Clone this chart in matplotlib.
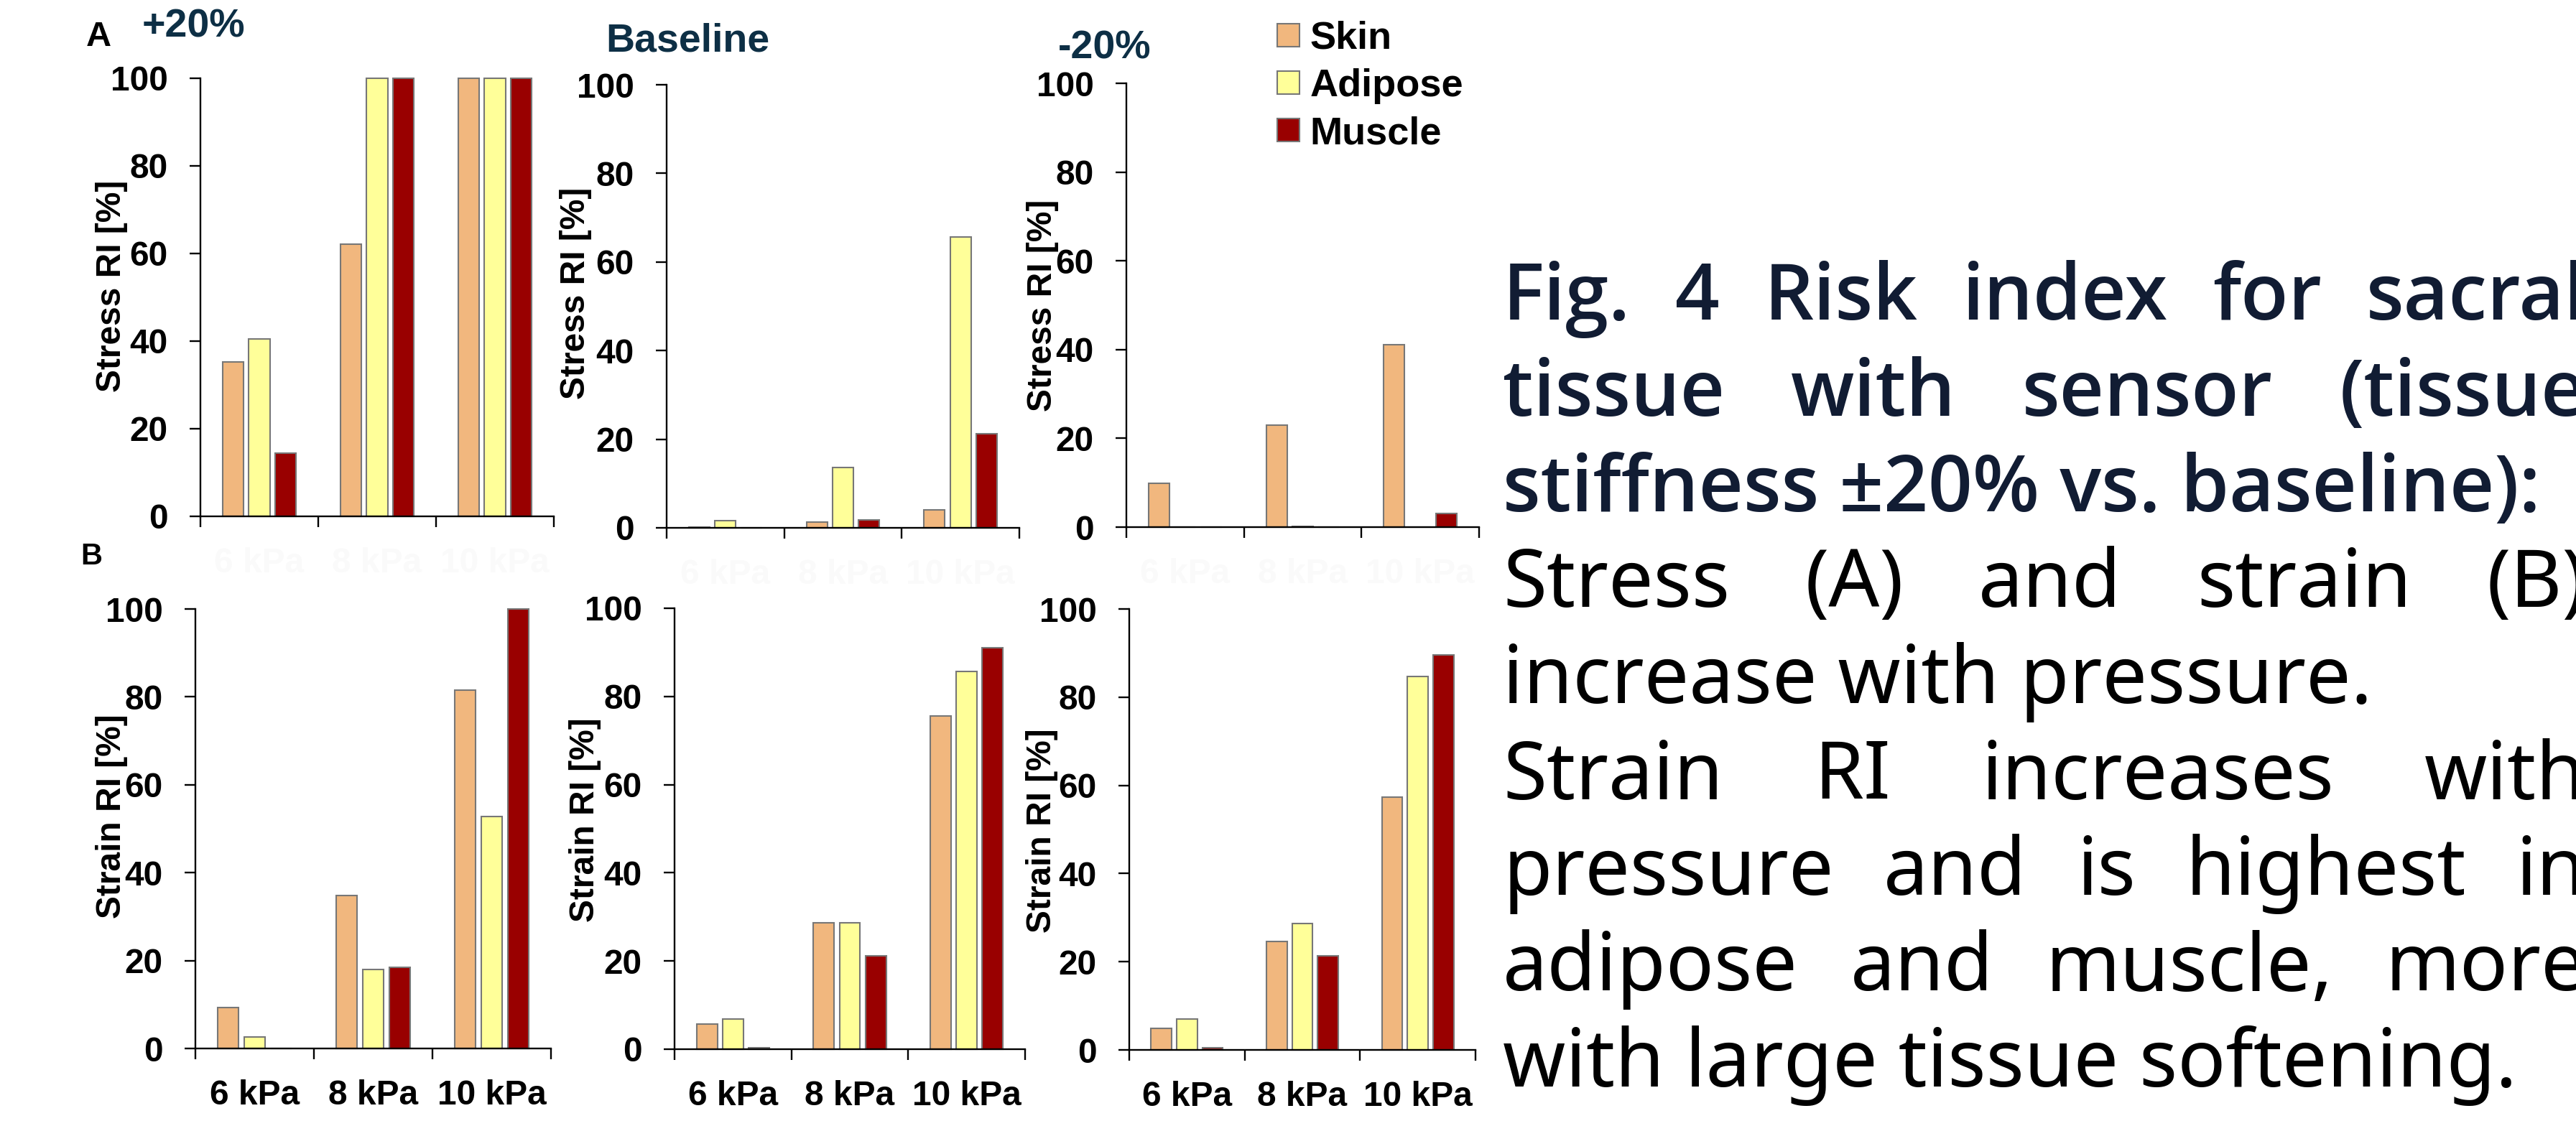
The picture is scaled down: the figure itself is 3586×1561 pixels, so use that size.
import matplotlib
matplotlib.use('Agg')
import matplotlib.pyplot as plt
from matplotlib import font_manager as fm
import os
import numpy as np

# values (risk index, %)
pressures = ['6 kPa', '8 kPa', '10 kPa']
tissues = ['Skin', 'Adipose', 'Muscle']
tissue_colors = ['#F1B77E', '#FFFF99', '#990000']
conditions = ['+20%', 'Baseline', '-20%']

# A: stress RI
stress_p20_skin = [35.2, 62.1, 100]
stress_p20_adipose = [40.5, 100, 100]
stress_p20_muscle = [14.4, 100, 100]

stress_base_skin = [0.15, 1.3, 4.1]
stress_base_adipose = [1.7, 13.6, 65.6]
stress_base_muscle = [0, 1.8, 21.3]

stress_m20_skin = [9.9, 23.0, 41.1]
stress_m20_adipose = [0, 0.1, 0]
stress_m20_muscle = [0, 0, 3.0]

# B: strain RI
strain_p20_skin = [9.3, 34.8, 81.5]
strain_p20_adipose = [2.6, 18.0, 52.7]
strain_p20_muscle = [0, 18.5, 100]

strain_base_skin = [5.7, 28.7, 75.6]
strain_base_adipose = [6.8, 28.6, 85.7]
strain_base_muscle = [0.4, 21.1, 91.0]

strain_m20_skin = [4.9, 24.6, 57.4]
strain_m20_adipose = [7.0, 28.7, 84.7]
strain_m20_muscle = [0.5, 21.4, 89.6]

caption_lines = [
    'Fig. 4 Risk index for sacral',
    'tissue with sensor (tissue',
    'stiffness ±20% vs. baseline):',
    'Stress (A) and strain (B)',
    'increase with pressure.',
    'Strain RI increases with',
    'pressure and is highest in',
    'adipose and muscle, more',
    'with large tissue softening.',
]
caption_bold = [True, True, True, False, False, False, False, False, False]
caption_justify = [True, True, False, True, False, True, True, True, False]

W, H = 3587, 1561
plt.rcParams['font.family'] = ['Liberation Sans', 'DejaVu Sans']
plt.rcParams['font.weight'] = 'bold'
plt.rcParams['axes.labelweight'] = 'bold'


# pick a caption family that really has a heavy face installed
def heavy_family():
    for fam in ['Noto Sans', 'Open Sans', 'Roboto', 'Lato']:
        try:
            path = fm.findfont(fm.FontProperties(family=fam, weight='semibold'), fallback_to_default=False)
        except Exception:
            continue
        name = os.path.basename(path)
        if any(k in name for k in ['Bold', 'Semi', 'Medium']):
            return fam
    return 'Liberation Sans'


cap_heavy = heavy_family()

fig = plt.figure(figsize=(W / 100, H / 100), dpi=100)
fig.patch.set_facecolor('white')


def add_axes_px(x0, x1, ytop, ybot):
    return fig.add_axes([x0 / W, 1 - ybot / H, (x1 - x0) / W, (ybot - ytop) / H])


def draw_panel(ax, skin, adipose, muscle, ylabel, label_xy, show_xlabels):
    x = np.arange(len(pressures))
    for k, (vals, col, name) in enumerate(zip([skin, adipose, muscle], tissue_colors, tissues)):
        ax.bar(x + (k - 1) * 0.222, vals, width=0.177, color=col, edgecolor='#777777',
               linewidth=1.5, label=name, clip_on=False)
    ax.set_xlim(-0.5, 2.5)
    ax.set_ylim(0, 100)
    ax.set_yticks([0, 20, 40, 60, 80, 100])
    for s in ['top', 'right']:
        ax.spines[s].set_visible(False)
    for s in ['left', 'bottom']:
        ax.spines[s].set_linewidth(1.7)
    ax.set_xticks(x)
    ax.set_xticklabels(pressures)
    ax.set_xticks([-0.5, 0.5, 1.5, 2.5], minor=True)
    # top row keeps its category labels, but almost white (as in the slide)
    ax.tick_params(axis='x', which='major', length=0, pad=31, labelsize=34.5,
                   labelcolor='black' if show_xlabels else '#fafafa')
    ax.tick_params(axis='x', which='minor', length=10.8, width=1.7, direction='out')
    ax.tick_params(axis='y', length=10.8, width=1.7, pad=22, labelsize=34.5)
    ax.set_ylabel(ylabel, fontsize=34.5, va='center')
    ax.yaxis.set_label_coords(*label_xy)


# axes boxes in pixels: x0, x1, ytop, ybot
ax_a1 = add_axes_px(279, 771, 109, 719)
ax_a2 = add_axes_px(928, 1419, 118, 735)
ax_a3 = add_axes_px(1568, 2059, 116, 734)
ax_b1 = add_axes_px(272, 767, 848, 1460)
ax_b2 = add_axes_px(939, 1427, 847, 1461)
ax_b3 = add_axes_px(1572, 2054, 848, 1462)

draw_panel(ax_a1, stress_p20_skin, stress_p20_adipose, stress_p20_muscle, 'Stress RI [%]', (-0.252, 0.525), False)
draw_panel(ax_a2, stress_base_skin, stress_base_adipose, stress_base_muscle, 'Stress RI [%]', (-0.257, 0.53), False)
draw_panel(ax_a3, stress_m20_skin, stress_m20_adipose, stress_m20_muscle, 'Stress RI [%]', (-0.238, 0.5), False)
draw_panel(ax_b1, strain_p20_skin, strain_p20_adipose, strain_p20_muscle, 'Strain RI [%]', (-0.236, 0.528), True)
draw_panel(ax_b2, strain_base_skin, strain_base_adipose, strain_base_muscle, 'Strain RI [%]', (-0.256, 0.52), True)
draw_panel(ax_b3, strain_m20_skin, strain_m20_adipose, strain_m20_muscle, 'Strain RI [%]', (-0.253, 0.497), True)

# condition titles and panel letters
title_color = '#0d2f45'
for txt, (px, py) in zip(conditions, [(269, 38), (957, 57), (1538, 68)]):
    fig.text(px / W, 1 - py / H, txt, ha='center', va='center', fontsize=40,
             weight='bold', color=title_color)
fig.text(137 / W, 1 - 51 / H, 'A', ha='center', va='center', fontsize=35, weight='bold')
fig.text(127 / W, 1 - 775 / H, 'B', ha='center', va='center', fontsize=30, weight='bold')

# legend
handles, labels = ax_a1.get_legend_handles_labels()
fig.legend(handles, labels, loc='upper left', bbox_to_anchor=(1778 / W, 1 - 29 / H),
           frameon=False, prop={'size': 39, 'weight': 'bold'},
           handlelength=0.574, handleheight=0.537, handletextpad=0.26,
           labelspacing=0.3, borderpad=0, borderaxespad=0)

# caption text on the right, justified like the slide
renderer = fig.canvas.get_renderer()
left_px, right_px = 2092, 3600

# heavy lines: size so that the unjustified line 3 ends where it does in the reference
probe = fig.text(0, 0, caption_lines[2], fontsize=80, family=[cap_heavy, 'DejaVu Sans'], weight='semibold')
heavy_size = min(80, 80 * 1445 / probe.get_window_extent(renderer).width)
probe.remove()

for i, line in enumerate(caption_lines):
    y = 1 - (445 + i * 133.5) / H
    if caption_bold[i]:
        style = dict(fontsize=heavy_size, family=[cap_heavy, 'DejaVu Sans'], weight='semibold', color='#111c33')
    else:
        style = dict(fontsize=80, family=['Noto Sans', 'DejaVu Sans'], weight='normal', color='black')
    if not caption_justify[i]:
        fig.text(left_px / W, y, line, ha='left', va='baseline', **style)
        continue
    words = line.split(' ')
    texts = [fig.text(0, y, w, ha='left', va='baseline', **style) for w in words]
    widths = [t.get_window_extent(renderer).width for t in texts]
    gap = (right_px - left_px - sum(widths)) / (len(words) - 1)
    xpos = left_px
    for t, w in zip(texts, widths):
        t.set_x(xpos / W)
        xpos += w + gap

fig.savefig('out.png', dpi=100)
